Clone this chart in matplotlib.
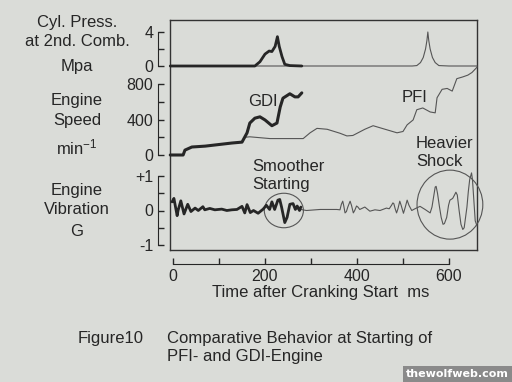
import numpy as np
import matplotlib.pyplot as plt
from matplotlib.patches import Ellipse

plt.rcParams['font.family'] = ['Liberation Sans', 'DejaVu Sans']
plt.rcParams['mathtext.default'] = 'regular'

# ---- data (time in ms) ----
# cylinder pressure at 2nd combustion, MPa
t_press_gdi = [-6, 178, 189, 200, 209, 215, 222, 227, 231, 237, 243, 254, 280]
p_gdi = [0, 0, 0.5, 1.4, 1.76, 1.7, 2.3, 3.45, 2.3, 1.1, 0.2, 0.05, 0]
t_press_pfi = [-6, 520, 530, 538, 544, 549, 552, 554, 556, 559, 564, 570, 578, 600, 661]
p_pfi = [0, 0, 0.05, 0.4, 1.0, 2.0, 3.0, 4.0, 3.0, 2.0, 1.0, 0.4, 0.05, 0, 0]

# engine speed, min-1
t_speed_gdi = [-6, 22, 26, 41, 70, 128, 150, 161, 167, 178, 189, 200, 215,
               226, 233, 239, 254, 265, 272, 280]
n_gdi = [0, 0, 55, 90, 100, 135, 145, 250, 360, 415, 430, 395, 330,
         360, 540, 640, 690, 655, 655, 700]
t_speed_pfi = [-6, 22, 26, 41, 70, 128, 150, 157, 167, 211, 283, 298, 313,
               335, 363, 378, 391, 417, 435, 461, 487, 500, 509, 522, 530,
               543, 559, 570, 574, 585, 596, 607, 617, 630, 641, 650, 661]
n_pfi = [0, 0, 55, 90, 100, 135, 150, 200, 205, 185, 185, 250, 300,
         290, 245, 215, 220, 290, 330, 290, 250, 265, 340, 395, 510,
         530, 485, 475, 645, 740, 750, 720, 860, 880, 900, 930, 990]

# engine vibration, G
t_vib_gdi = [-2, 2, 9, 11, 17, 24, 32, 39, 48, 55, 65, 69, 80, 91, 106, 117,
             128, 139, 150, 156, 161, 168, 175, 185, 196, 203, 210, 215, 221,
             228, 232, 236, 243, 248, 254, 261, 266, 270, 275, 278]
v_gdi = [0.25, 0.35, -0.15, 0.0, 0.28, -0.1, 0.18, -0.03, 0.07, 0.0, 0.11,
         0.02, 0.06, 0.02, 0.04, 0.0, 0.02, 0.03, 0.12, -0.07, 0.17, -0.06,
         0.0, -0.08, 0.04, 0.15, 0.03, 0.25, 0.03, 0.3, 0.32, 0.1, -0.35,
         -0.2, 0.18, 0.2, 0.03, 0.13, 0.0, 0.1]
t_vib_pfi = [270, 290, 320, 356, 363, 366, 369, 371, 374, 377, 380, 385, 388,
             392, 395, 399, 402, 406, 417, 428, 439, 450, 464, 470, 475, 478,
             480, 483, 486, 489, 493, 496, 501, 505, 509, 513, 519, 526, 537,
             548, 559, 563, 566, 570, 572, 575, 579, 583, 587, 590, 595, 599,
             602, 608, 612, 615, 618, 622, 626, 630, 633, 636, 639, 642, 645,
             649, 651, 654, 657, 661]
v_pfi = [0.05, 0.0, 0.03, 0.03, 0.02, 0.18, 0.27, 0.15, -0.07, -0.03, 0.1,
         0.27, 0.15, -0.07, 0.0, 0.13, 0.1, 0.03, 0.1, -0.02, 0.02, 0.0, 0.07,
         0.05, 0.15, 0.22, 0.2, 0.05, -0.07, 0.05, 0.27, 0.15, -0.08, 0.1,
         0.3, 0.15, 0.0, 0.05, 0.12, 0.03, -0.07, 0.1, 0.35, 0.68, 0.7, 0.5,
         0.13, -0.2, -0.4, -0.38, -0.2, 0.15, 0.3, 0.35, 0.45, 0.53, 0.45,
         0.0, -0.4, -0.55, -0.5, -0.2, 0.1, 0.55, 0.9, 1.09, 0.9, 0.3, -0.3,
         -0.45]

time_ticks = [0, 100, 200, 300, 400, 500, 600]
time_labels = ['0', '', '200', '', '400', '', '600']

# ---- layout (pixel geometry of the printed figure) ----
W, H = 512, 382
bg = '#dadcd8'
ink = '#262626'
thin = '#555555'


def fx(x):
    return x / W


def fy(y):
    return 1 - y / H


box_top, box_bot = 20, 250
rect = [fx(170), fy(box_bot), fx(477) - fx(170), fy(box_top) - fy(box_bot)]
xlim = ((170 - 173) / 0.46, (477 - 173) / 0.46)


def ylim_for(va, ya, vb, yb):
    k = (vb - va) / (yb - ya)
    return va + k * (box_bot - ya), va + k * (box_top - ya)


fig = plt.figure(figsize=(5.12, 3.82), dpi=100)
fig.patch.set_facecolor(bg)

ax_box = fig.add_axes(rect)
ax_box.set_facecolor('none')
ax_box.set_xticks([])
ax_box.set_yticks([])
for s in ax_box.spines.values():
    s.set_color('#333333')
    s.set_linewidth(1.0)


def overlay(ylim, ticks, labels, bounds):
    ax = fig.add_axes(rect)
    ax.patch.set_alpha(0)
    ax.set_xlim(*xlim)
    ax.set_ylim(*ylim)
    for side in ['top', 'right', 'bottom']:
        ax.spines[side].set_visible(False)
    ax.spines['left'].set_position(('outward', 8.6))
    ax.spines['left'].set_bounds(*bounds)
    ax.spines['left'].set_color(ink)
    ax.set_yticks(ticks)
    ax.set_yticklabels(labels)
    ax.tick_params(axis='y', direction='in', length=4.5, width=1,
                   color=ink, labelsize=11.5, labelcolor=ink, pad=3.5)
    ax.set_xticks([])
    return ax


ax_p = overlay(ylim_for(0, 66, 4, 32), [0, 2, 4], ['0', '', '4'], (0, 4))
ax_n = overlay(ylim_for(0, 155, 800, 84), [0, 200, 400, 600, 800],
               ['0', '', '400', '', '800'], (0, 800))
ax_v = overlay(ylim_for(-1, 245, 1, 176), [-1, -0.5, 0, 0.5, 1],
               ['-1', '', '0', '', '+1'], (-1, 1))

ax_v.spines['bottom'].set_visible(True)
ax_v.spines['bottom'].set_position(('outward', 10))
ax_v.spines['bottom'].set_bounds(0, 600)
ax_v.spines['bottom'].set_color(ink)
ax_v.set_xticks(time_ticks)
ax_v.set_xticklabels(time_labels)
ax_v.tick_params(axis='x', direction='in', length=4.5, width=1, color=ink,
                 labelsize=11.5, labelcolor=ink, pad=4)

# curves
lkw = dict(clip_on=False, solid_joinstyle='round', solid_capstyle='round')
ax_p.plot(t_press_pfi, p_pfi, color=thin, lw=0.8, **lkw)
ax_p.plot(t_press_gdi, p_gdi, color=ink, lw=2.0, **lkw)
ax_n.plot(t_speed_pfi, n_pfi, color=thin, lw=0.8, **lkw)
ax_n.plot(t_speed_gdi, n_gdi, color=ink, lw=2.2, **lkw)
ax_v.plot(t_vib_pfi, v_pfi, color=thin, lw=0.8, **lkw)
ax_v.plot(t_vib_gdi, v_gdi, color=ink, lw=2.0, **lkw)

ax_v.add_patch(Ellipse((241, 0.0), 85, 1.0, fill=False, ec=thin, lw=0.8,
                       clip_on=False))
ax_v.add_patch(Ellipse((602, 0.17), 143, 2.0, fill=False, ec=thin, lw=0.8,
                       clip_on=False))

# text labels
tk = dict(color=ink, fontsize=12, ha='center', va='center')
for txt, y in [('Cyl. Press.', 22), ('at 2nd. Comb.', 42), ('Mpa', 67),
               ('Engine', 100), ('Speed', 120), (r'min$^{-1}$', 147),
               ('Engine', 190), ('Vibration', 210), ('G', 232)]:
    fig.text(fx(77), fy(y), txt, **tk)

fig.text(fx(263), fy(101), 'GDI', **tk)
fig.text(fx(415), fy(97), 'PFI', **tk)
lk = dict(color=ink, fontsize=12, ha='left', va='center')
fig.text(fx(252), fy(166), 'Smoother', **lk)
fig.text(fx(252), fy(185), 'Starting', **lk)
fig.text(fx(416), fy(143), 'Heavier', **lk)
fig.text(fx(416), fy(161), 'Shock', **lk)

fig.text(fx(321), fy(292), 'Time after Cranking Start  ms', **tk)
fig.text(fx(78), fy(339), 'Figure10', **lk)
fig.text(fx(167), fy(338), 'Comparative Behavior at Starting of', **lk)
fig.text(fx(167), fy(356), 'PFI- and GDI-Engine', **lk)

fig.text(fx(509), fy(374), 'thewolfweb.com', color='white', fontsize=8,
         fontweight='bold', family='DejaVu Sans', ha='right', va='center',
         bbox=dict(boxstyle='square,pad=0.25', fc='#8a8a8a', ec='none'))

fig.savefig('out.png', dpi=100, facecolor=bg)
